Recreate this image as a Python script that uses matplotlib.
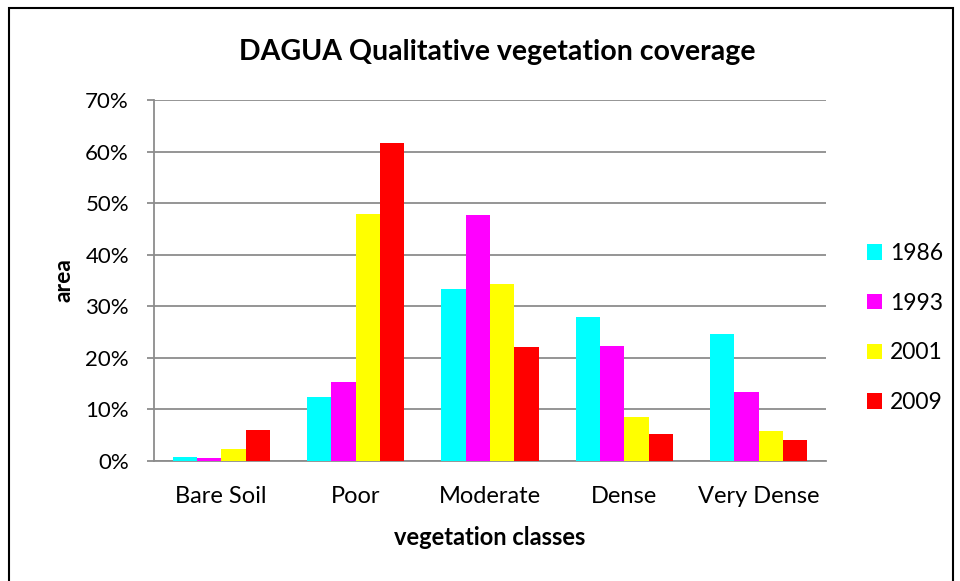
import numpy as np
import matplotlib
matplotlib.use('Agg')
import matplotlib.pyplot as plt
from matplotlib.patches import Rectangle
from matplotlib.ticker import PercentFormatter

plt.rcParams['font.family'] = ['Lato', 'DejaVu Sans']

# data (fractions of area)
classes = ['Bare Soil', 'Poor', 'Moderate', 'Dense', 'Very Dense']
years = ['1986', '1993', '2001', '2009']
v1986 = [0.008, 0.124, 0.334, 0.279, 0.246]
v1993 = [0.006, 0.153, 0.477, 0.223, 0.134]
v2001 = [0.024, 0.479, 0.344, 0.086, 0.058]
v2009 = [0.060, 0.616, 0.221, 0.053, 0.041]
series = [v1986, v1993, v2001, v2009]
colors = ['#00FFFF', '#FF00FF', '#FFFF00', '#FF0000']

W, H = 960, 581
fig = plt.figure(figsize=(W / 100, H / 100), dpi=100)

# plot area in pixel coords of the reference
x0, x1, y0, y1 = 154, 826, 100, 461
ax = fig.add_axes([x0 / W, 1 - y1 / H, (x1 - x0) / W, (y1 - y0) / H])

x = np.arange(len(classes))
bw = 0.181
for i, (vals, c, yr) in enumerate(zip(series, colors, years)):
    ax.bar(x + (i - 1.5) * bw, vals, width=bw, color=c, label=yr,
           edgecolor='none', zorder=3)

ax.set_xlim(-0.5, len(classes) - 0.5)
ax.set_ylim(0, 0.70)
ax.set_yticks(np.arange(0, 0.71, 0.1))
ax.yaxis.set_major_formatter(PercentFormatter(1.0, decimals=0))
ax.set_xticks(x)
ax.set_xticklabels(classes)

grid_c = '#8c8c8c'
ax.yaxis.grid(True, color=grid_c, linewidth=1.3, zorder=0)
ax.set_axisbelow(True)
for s in ['top', 'right']:
    ax.spines[s].set_visible(False)
for s in ['left', 'bottom']:
    ax.spines[s].set_color(grid_c)
    ax.spines[s].set_linewidth(1.3)
ax.tick_params(axis='y', length=5, width=1.3, color=grid_c, labelsize=16, pad=13)
ax.tick_params(axis='x', length=0, labelsize=17, pad=18)

ax.set_xlabel('vegetation classes', fontsize=17, fontweight='bold', labelpad=14)
ax.set_ylabel('area', fontsize=16.5, fontweight='bold', labelpad=8)
fig.text(497 / W, 1 - 52 / H, 'DAGUA Qualitative vegetation coverage',
         ha='center', va='center', fontsize=20.5, fontweight='bold')

leg = fig.legend(loc='center left', bbox_to_anchor=(867 / W, 1 - 328 / H),
                 frameon=False, fontsize=16.5, handlelength=0.65, handleheight=0.65,
                 handletextpad=0.35, labelspacing=1.25, borderpad=0,
                 borderaxespad=0)

# outer chart frame
fig.patches.append(Rectangle((9 / W, -0.01), (953 - 9) / W, 1 - 8 / H + 0.01,
                             transform=fig.transFigure, fill=False,
                             edgecolor='black', linewidth=1.5))

fig.savefig('out.png', dpi=100)
plt.close('all')
